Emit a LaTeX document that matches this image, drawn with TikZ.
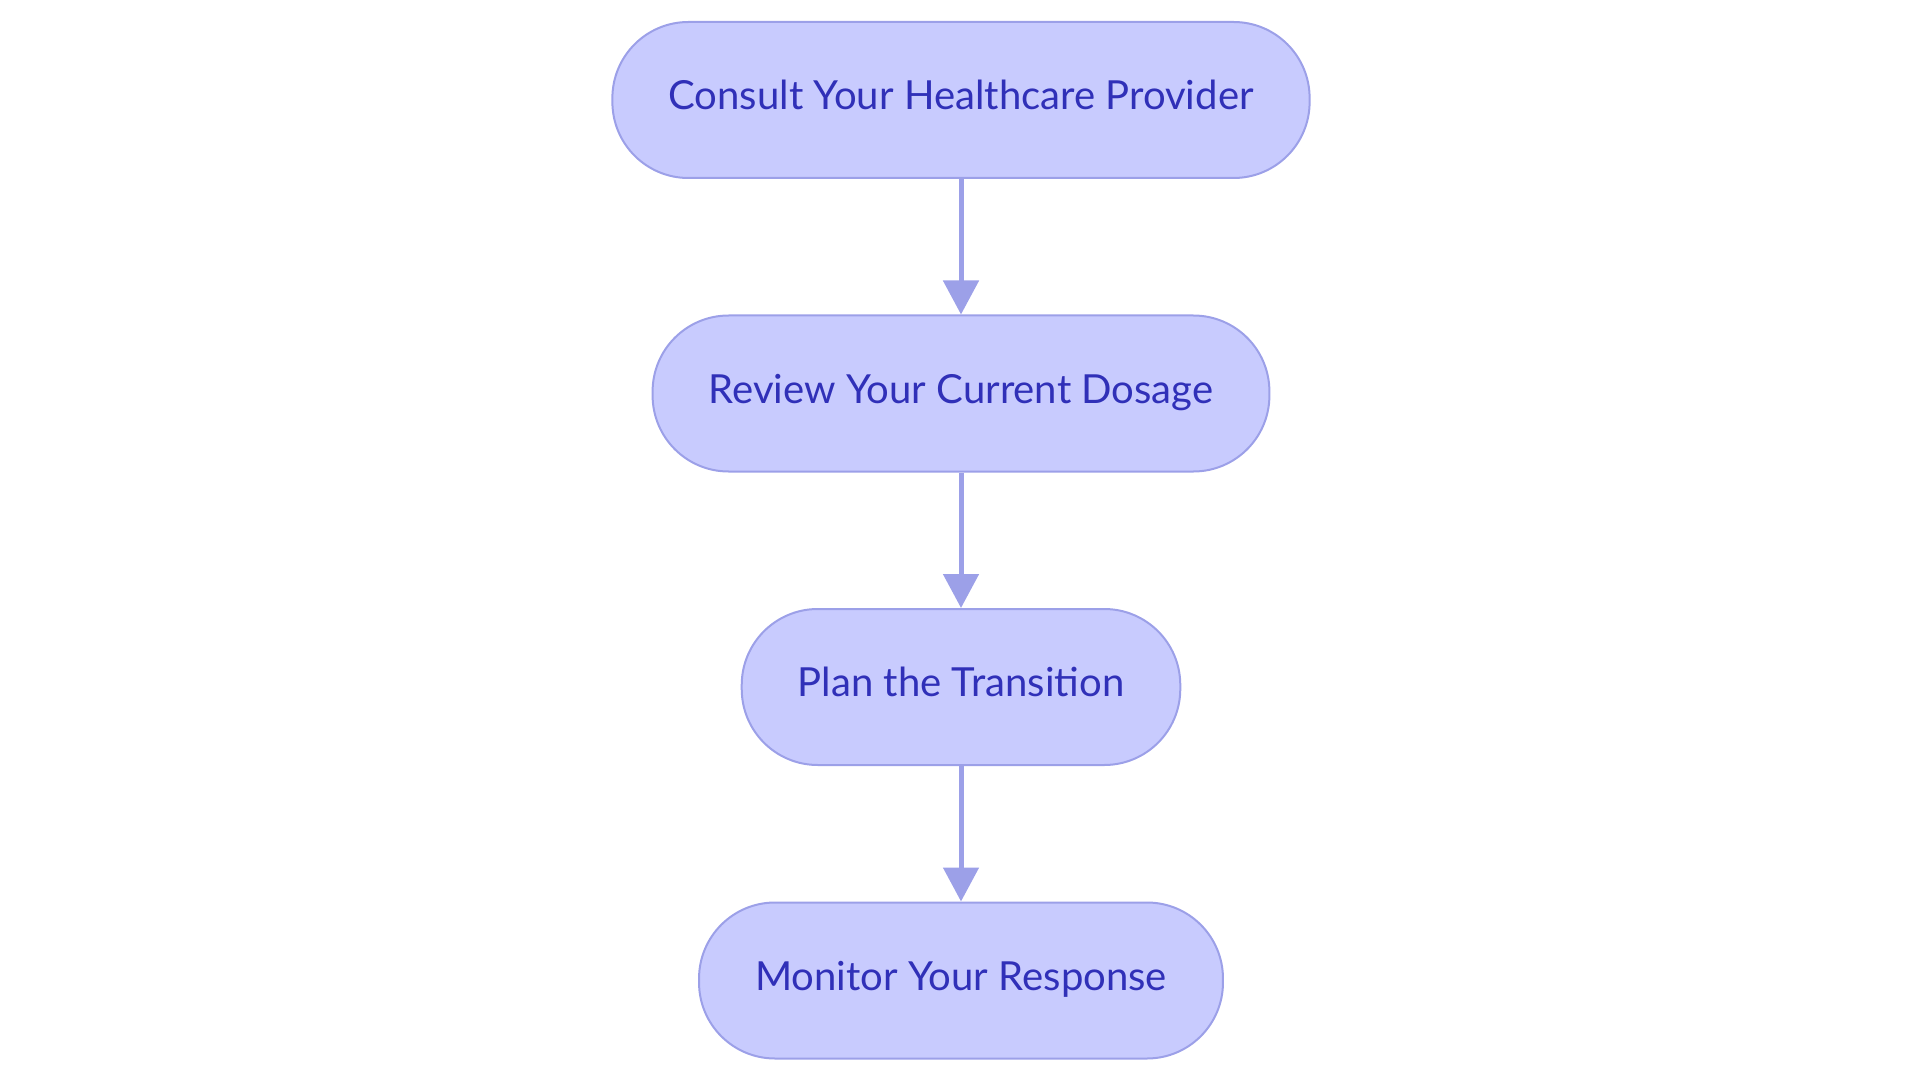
\documentclass[tikz,border=0pt]{standalone}
\usepackage{fontspec}
\setmainfont{Lato}
\usetikzlibrary{arrows.meta}
\definecolor{boxfill}{RGB}{200,203,254}
\definecolor{boxline}{RGB}{156,160,232}
\definecolor{boxtext}{RGB}{48,48,184}
\definecolor{arrowline}{RGB}{156,160,232}

\begin{document}
\begin{tikzpicture}[y=-1mm, x=1mm]
	\useasboundingbox (0,0) rectangle (192,108.3);
	\begin{scope}[every node/.style={draw=boxline, fill=boxfill, text=boxtext,
		line width=0.2mm, rounded corners=7.6mm, minimum height=15.6mm,
		inner xsep=5.6mm, text height=0.75em, text depth=0.2em,
		font=\fontsize{11.4}{13}\selectfont}]
	\node (CO) at (96.1,10) {Consult Your Healthcare Provider};
	\node (RE) at (96.1,39.35) {Review Your Current Dosage};
	\node (PL) at (96.1,68.7) {Plan the Transition};
	\node (MO) at (96.1,98.05) {Monitor Your Response};
	\end{scope}
	\begin{scope}[every path/.style={draw=arrowline, line width=0.5mm}]
	\path [-{Triangle[width=3.5mm,length=3.4mm]}] (CO) -- (RE);
	\path [-{Triangle[width=3.5mm,length=3.4mm]}] (RE) -- (PL);
	\path [-{Triangle[width=3.5mm,length=3.4mm]}] (PL) -- (MO);
	\end{scope}
\end{tikzpicture}
\end{document}
